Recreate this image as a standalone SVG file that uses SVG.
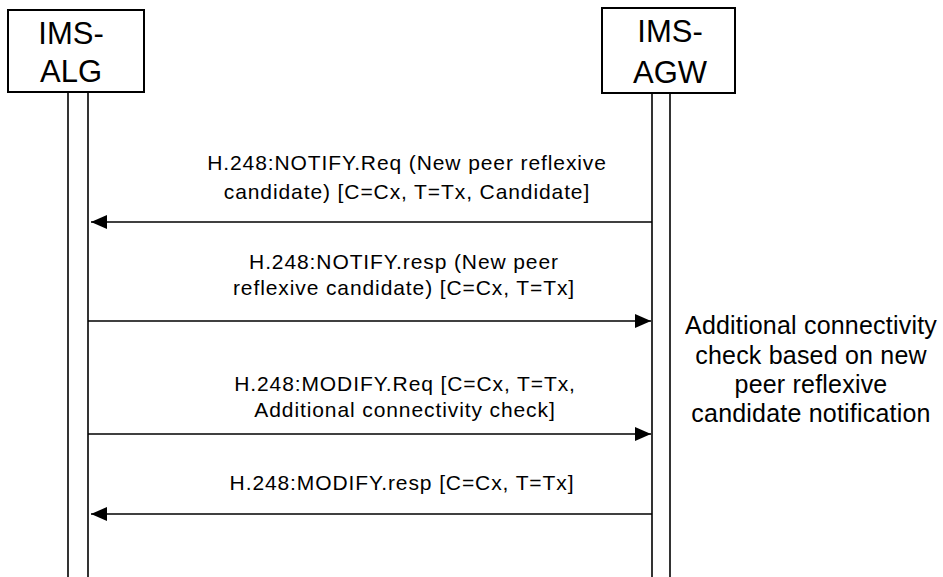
<svg xmlns="http://www.w3.org/2000/svg" width="943" height="577" viewBox="0 0 943 577">
<style>
.box{fill:#fff;stroke:#000;stroke-width:2}
.life{stroke:#000;stroke-width:1.6;fill:none}
.hdr{font-family:"Liberation Sans",Arial,sans-serif;font-size:31px;fill:#000;text-anchor:middle}
.msg{font-family:"Liberation Sans",Arial,sans-serif;font-size:21px;letter-spacing:0.9px;fill:#000;text-anchor:middle}
.note{font-family:"Liberation Sans",Arial,sans-serif;font-size:25px;letter-spacing:0.2px;fill:#000;text-anchor:middle}
.arr{stroke:#000;stroke-width:1.6;fill:none}
</style>
<defs>
<marker id="ah" viewBox="0 0 16 14" refX="16" refY="7" markerWidth="16" markerHeight="14" markerUnits="userSpaceOnUse" orient="auto">
<path d="M0,0 L16,7 L0,14 Z" fill="#000"/>
</marker>
</defs>
<g id="alg">
<rect class="box" x="8" y="10" width="136" height="82"/>
<text class="hdr" x="71" y="44">IMS-</text>
<text class="hdr" x="71" y="82">ALG</text>
<line class="life" x1="68" y1="92" x2="68" y2="577"/>
<line class="life" x1="88" y1="92" x2="88" y2="577"/>
</g>
<g id="agw">
<rect class="box" x="602" y="8" width="133" height="85"/>
<text class="hdr" x="670" y="42">IMS-</text>
<text class="hdr" x="670" y="83">AGW</text>
<line class="life" x1="652" y1="93" x2="652" y2="577"/>
<line class="life" x1="670" y1="93" x2="670" y2="577"/>
</g>
<g id="connectors">
<line class="arr" x1="652" y1="222" x2="91" y2="222" marker-end="url(#ah)"/>
<line class="arr" x1="88" y1="321" x2="651" y2="321" marker-end="url(#ah)"/>
<line class="arr" x1="88" y1="434" x2="651" y2="434" marker-end="url(#ah)"/>
<line class="arr" x1="652" y1="514" x2="91" y2="514" marker-end="url(#ah)"/>
</g>
<g id="labels">
<text class="msg" x="407" y="170">H.248:NOTIFY.Req (New peer reflexive</text>
<text class="msg" x="407" y="199">candidate) [C=Cx, T=Tx, Candidate]</text>
<text class="msg" x="404" y="269">H.248:NOTIFY.resp (New peer</text>
<text class="msg" x="404" y="295">reflexive candidate) [C=Cx, T=Tx]</text>
<text class="msg" x="405" y="391">H.248:MODIFY.Req [C=Cx, T=Tx,</text>
<text class="msg" x="405" y="417">Additional connectivity check]</text>
<text class="msg" x="402" y="490">H.248:MODIFY.resp [C=Cx, T=Tx]</text>
</g>
<g id="note">
<text class="note" x="811" y="334">Additional connectivity</text>
<text class="note" x="811" y="364">check based on new</text>
<text class="note" x="811" y="393">peer reflexive</text>
<text class="note" x="811" y="422">candidate notification</text>
</g>
</svg>
